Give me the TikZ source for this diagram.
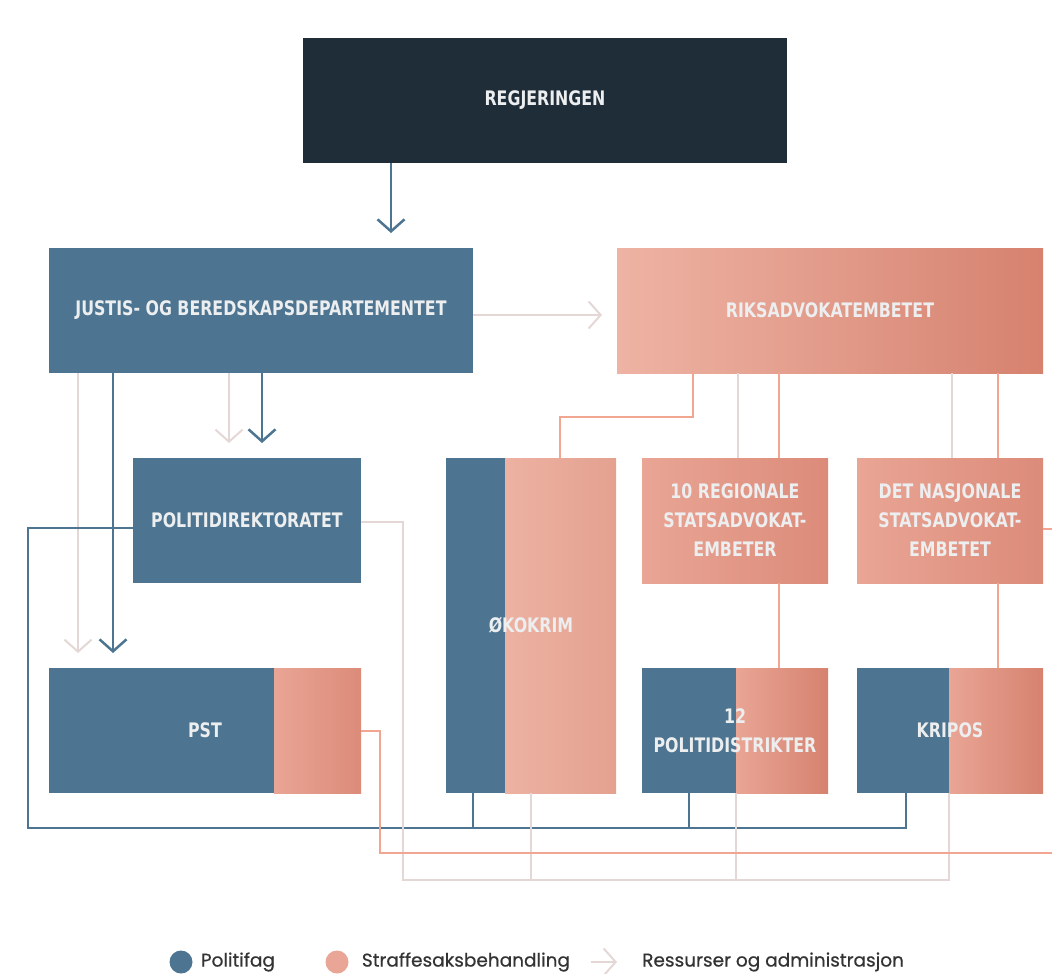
\documentclass[tikz,border=0pt]{standalone}
\usepackage{fontspec}
\usetikzlibrary{arrows.meta, calc, backgrounds, positioning}
\newfontfamily\boxfont{DejaVu Sans}[FakeStretch=0.79]
\newfontfamily\legendfont{Poppins}[FakeBold=0.6]

\definecolor{navy}{HTML}{1F2D39}
\definecolor{polblue}{HTML}{4D7591}
\definecolor{strafA}{HTML}{EEB3A4}
\definecolor{strafB}{HTML}{D6826F}
\definecolor{strafC}{HTML}{E9A595}
\definecolor{strafD}{HTML}{DC8B79}
\definecolor{strafE}{HTML}{EDB2A2}
\definecolor{strafF}{HTML}{E4A190}
\definecolor{resgray}{HTML}{E4D8D6}
\definecolor{straffline}{HTML}{F0A690}
\definecolor{boxtext}{HTML}{ECEEEF}

\begin{document}
\begin{tikzpicture}[
            x=1pt, y=-1pt, % pixel grid, y downwards
            box/.style={anchor=north west, minimum height=125, inner sep=0pt, outer sep=0pt,
                text=boxtext, align=center, font=\boxfont\bfseries\fontsize{20}{29}\selectfont},
            govbox/.style={box, fill=navy},
            polbox/.style={box, fill=polblue},
            strafbox/.style={box, left color=strafA, right color=strafB},
            splitbox/.style={box},
            bluel/.style={draw=polblue, line width=2.5pt},
            grayl/.style={draw=resgray, line width=2pt},
            salml/.style={draw=straffline, line width=2pt},
            bluearrow/.style={bluel, -{Straight Barb[length=12pt, width=27pt]}, shorten >=15pt},
            grayarrow/.style={grayl, -{Straight Barb[length=12pt, width=27pt]}, shorten >=15pt},
            dot/.style={circle, minimum size=23, inner sep=0pt},
            legend/.style={anchor=west, inner sep=0pt, text=black!80, font=\legendfont\fontsize{18.5}{20}\selectfont}
        ]

        \useasboundingbox (0,0) rectangle (1052,974);

        % Top level
        \node[govbox, minimum width=484] (regjering) at (303,38) {REGJERINGEN};
        \node[polbox, minimum width=424] (justis) at (49,248) {JUSTIS- OG BEREDSKAPSDEPARTEMENTET};
        \node[strafbox, minimum width=426] (riks) at (617,248) {RIKSADVOKATEMBETET};

        % Middle row
        \node[polbox, minimum width=228] (pod) at (133,458) {POLITIDIREKTORATET};
        \node[splitbox, minimum width=170, minimum height=335] (okokrim) at (446,458) {ØKOKRIM};
        \node[strafbox, minimum width=186, left color=strafC, right color=strafD] (regional) at (642,458) {10 REGIONALE\\STATSADVOKAT-\\EMBETER};
        \node[strafbox, minimum width=186, left color=strafC, right color=strafD] (nasjonal) at (857,458) {DET NASJONALE\\STATSADVOKAT-\\EMBETET};

        % Bottom row
        \node[splitbox, minimum width=312] (pst) at (49,668) {PST};
        \node[splitbox, minimum width=186] (distrikt) at (642,668) {12\\POLITIDISTRIKTER};
        \node[splitbox, minimum width=186] (kripos) at (857,668) {KRIPOS};

        % Blue and salmon parts of the split boxes
        \begin{scope}[on background layer]
        \foreach \n/\w/\ca/\cb in {pst/225/strafC/strafD, okokrim/59/strafE/strafF, distrikt/94/strafC/strafB, kripos/92/strafC/strafB}{
            \fill[polblue] (\n.north west) rectangle ($(\n.south west)+(\w,0)$);
            \shade[left color=\ca, right color=\cb] ($(\n.north west)+(\w,0)$) rectangle (\n.south east);
        }
        \end{scope}

        % Free ends at the right border
        \coordinate (ut-1) at (1052,853);
        \coordinate (ut-2) at (1052,529);

        % Arrows from the government and the ministry
        \draw[bluearrow] ($(regjering.south west)+(88,0)$) -- ($(justis.north west)+(342,0)$);
        \draw[grayarrow] ($(justis.north east)+(0,67)$) -- ($(riks.north west)+(0,67)$);
        \draw[grayarrow] ($(justis.south west)+(29,0)$) -- ($(pst.north west)+(29,0)$);
        \draw[bluearrow] ($(justis.south west)+(64,0)$) -- ($(pst.north west)+(64,0)$);
        \draw[grayarrow] ($(justis.south west)+(180,0)$) -- ($(pod.north west)+(96,0)$);
        \draw[bluearrow] ($(justis.south west)+(213,0)$) -- ($(pod.north west)+(129,0)$);

        % Politifag lines
        \draw[bluel] ($(pod.north west)+(0,70)$) -- ++(-105,0) |- ($(kripos.south west)+(49,35)$) -- ($(kripos.south west)+(49,0)$);
        \draw[bluel] ($(okokrim.south west)+(27,0)$) -- ++(0,35);
        \draw[bluel] ($(distrikt.south west)+(47,0)$) -- ++(0,35);

        % Ressurser og administrasjon lines
        \draw[grayl] ($(pod.north east)+(0,64)$) -- ++(42,0) |- ($(kripos.south west)+(92,87)$) -- ($(kripos.south west)+(92,0)$);
        \draw[grayl] ($(okokrim.south west)+(85,0)$) -- ++(0,87);
        \draw[grayl] ($(distrikt.south west)+(94,0)$) -- ++(0,87);
        \draw[grayl] ($(riks.south west)+(121,0)$) -- ($(regional.north west)+(96,0)$);
        \draw[grayl] ($(riks.south west)+(335,0)$) -- ($(nasjonal.north west)+(95,0)$);

        % Straffesaksbehandling lines
        \draw[salml] ($(riks.south west)+(76,0)$) -- ++(0,44) -| ($(okokrim.north west)+(114,0)$);
        \draw[salml] ($(riks.south west)+(162,0)$) -- ($(regional.north west)+(137,0)$);
        \draw[salml] ($(regional.south west)+(137,0)$) -- ($(distrikt.north west)+(137,0)$);
        \draw[salml] ($(riks.south west)+(381,0)$) -- ($(nasjonal.north west)+(141,0)$);
        \draw[salml] ($(nasjonal.south west)+(141,0)$) -- ($(kripos.north west)+(141,0)$);
        \draw[salml] (pst.east) -- ++(19,0) |- (ut-1);
        \draw[salml] ($(nasjonal.north east)+(0,71)$) -- (ut-2);

        % Legend
        \node[dot, fill=polblue] (dot-pol) at (181,962) {};
        \node[legend, right=8pt of dot-pol] (leg-pol) {Politifag};
        \node[dot, fill=strafC] (dot-straf) at (337,962) {};
        \node[legend, right=13pt of dot-straf] (leg-straf) {Straffesaksbehandling};
        \node[legend] (leg-res) at (642,962) {Ressurser og administrasjon};
        \draw[grayarrow, shorten <=21pt, shorten >=25pt] (leg-straf.east) -- (leg-res.west);

    \end{tikzpicture}
\end{document}
